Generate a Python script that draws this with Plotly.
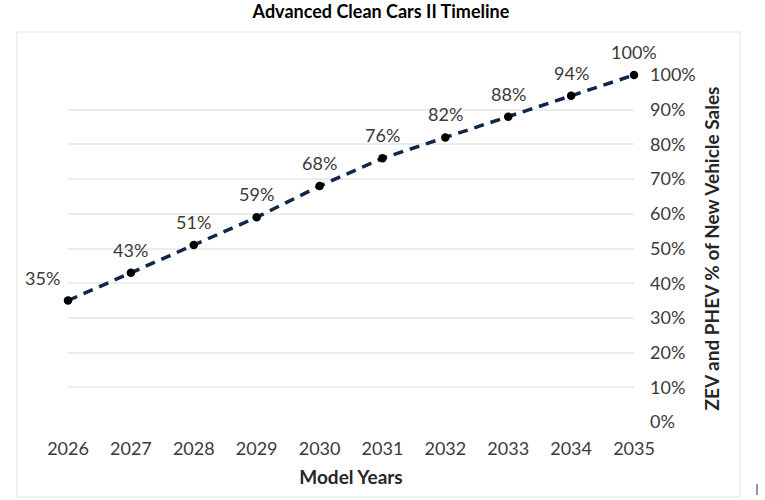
import plotly.graph_objects as go

years = [2026, 2027, 2028, 2029, 2030, 2031, 2032, 2033, 2034, 2035]
shares = [35, 43, 51, 59, 68, 76, 82, 88, 94, 100]
labels = ["35%", "43%", "51%", "59%", "68%", "76%", "82%", "88%", "94%", "100%"]
y_ticks = [0, 10, 20, 30, 40, 50, 60, 70, 80, 90, 100]
y_tick_text = [f"{v}%" for v in y_ticks]

FONT = "Lato"
TXT = "#3a3a3a"

fig = go.Figure()
fig.add_trace(go.Scatter(
    x=years, y=shares, mode="lines+markers",
    line=dict(color="#0f2847", width=3.5, dash="10px,7px"),
    marker=dict(color="black", size=8.5),
    cliponaxis=False, hoverinfo="skip", showlegend=False,
))

for i, (xv, yv, t) in enumerate(zip(years, shares, labels)):
    fig.add_annotation(
        x=xv, y=yv, text=t, showarrow=False,
        xanchor="center", yanchor="middle",
        yshift=23, xshift=-26 if i == 0 else 0,
        font=dict(family=FONT, size=18, color=TXT),
    )

fig.update_layout(
    width=765, height=500,
    margin=dict(l=68, r=131, t=75, b=78, autoexpand=False),
    paper_bgcolor="white", plot_bgcolor="white",
    font=dict(family=FONT, color=TXT),
    title=dict(text="<b>Advanced Clean Cars II Timeline</b>",
               x=0.498, xanchor="center", y=0.976, yanchor="middle",
               font=dict(family=FONT, size=18, color="black")),
    xaxis=dict(
        range=[2026, 2035], tickmode="array", tickvals=years,
        ticktext=[str(y) for y in years],
        showgrid=False, zeroline=False, showline=False, ticks="",
        ticklabelstandoff=14,
        tickfont=dict(family=FONT, size=18, color=TXT),
        title=dict(text="<b>Model Years</b>", standoff=12,
                   font=dict(family=FONT, size=19, color="#262626")),
        automargin=False,
    ),
    yaxis=dict(
        range=[0, 100], side="right", tickmode="array", tickvals=y_ticks,
        ticktext=y_tick_text,
        showgrid=True, gridcolor="#ececec", gridwidth=1.5,
        zeroline=False, showline=False, ticks="",
        ticklabelstandoff=15,
        tickfont=dict(family=FONT, size=18, color=TXT),
        title=dict(text="<b>ZEV and PHEV % of New Vehicle Sales</b>", standoff=10,
                   font=dict(family=FONT, size=19, color="#262626")),
        automargin=False,
    ),
    shapes=[
        dict(type="rect", xref="paper", yref="paper",
             x0=-51/566, x1=(740-68)/566, y0=-(497-422)/347, y1=(422-32)/347,
             line=dict(color="#ededed", width=1.5), layer="below"),
        dict(type="line", xref="paper", yref="paper",
             x0=(757-68)/566, x1=(757-68)/566, y0=-(495-422)/347, y1=-(484-422)/347,
             line=dict(color="#333333", width=1)),
    ],
)

fig.write_html("out.html", config={"displayModeBar": False},
               post_script="document.body.style.margin='0';")
